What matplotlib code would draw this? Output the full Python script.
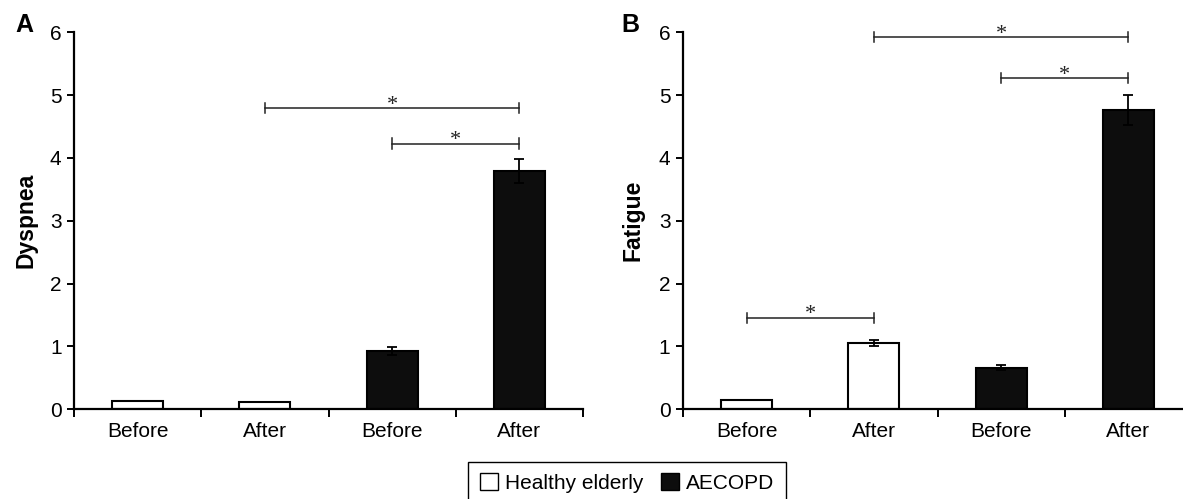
import matplotlib
matplotlib.use("Agg")
import matplotlib.pyplot as plt
from matplotlib.patches import Patch

plt.rcParams['font.family'] = ['Liberation Sans', 'DejaVu Sans']

# data
categories = ["Before", "After", "Before", "After"]
groups = ["Healthy elderly", "Healthy elderly", "AECOPD", "AECOPD"]

dyspnea = [0.13, 0.12, 0.93, 3.79]
dyspnea_err = [0.0, 0.0, 0.06, 0.19]

fatigue = [0.15, 1.05, 0.66, 4.76]
fatigue_err = [0.0, 0.05, 0.04, 0.24]

# significance brackets: (start bar, end bar, height)
dyspnea_sig = [(1, 3, 4.79), (2, 3, 4.23)]
fatigue_sig = [(1, 3, 5.92), (2, 3, 5.27), (0, 1, 1.46)]

group_colors = {"Healthy elderly": "white", "AECOPD": "#0d0d0d"}

W, H = 1183, 499
fig = plt.figure(figsize=(W / 100, H / 100), dpi=100)


def draw_panel(ax, values, errors, sigs):
    x = list(range(len(values)))
    colors = [group_colors[g] for g in groups]
    ax.bar(x, values, width=0.4, color=colors, edgecolor="black", linewidth=1.5, zorder=2)
    ax.errorbar(x, values, yerr=errors, fmt="none", ecolor="black", elinewidth=1.3,
                capsize=3.5, capthick=1.3, zorder=3)

    for a, b, h in sigs:
        ax.plot([a, b], [h, h], color="#222222", lw=1.1, clip_on=False, zorder=4)
        for xx in (a, b):
            ax.plot([xx, xx], [h - 0.08, h + 0.08], color="#222222", lw=1.1,
                    clip_on=False, zorder=4)
        ax.text((a + b) / 2, h - 0.03, "*", ha="center", va="baseline", fontsize=16,
                family="Liberation Serif", color="#222222", clip_on=False)

    ax.set_xlim(-0.5, len(values) - 0.5)
    ax.set_ylim(0, 6)
    ax.set_yticks(range(7))
    ax.set_xticks([i - 0.5 for i in range(len(values) + 1)])
    ax.set_xticklabels([])
    ax.set_xticks(x, minor=True)
    ax.set_xticklabels(categories, minor=True)
    ax.tick_params(axis="x", which="major", direction="out", length=6, width=1.4)
    ax.tick_params(axis="x", which="minor", length=0, pad=9, labelsize=15)
    ax.tick_params(axis="y", direction="out", length=5, width=1.4, pad=4, labelsize=15)
    for s in ("top", "right"):
        ax.spines[s].set_visible(False)
    for s in ("left", "bottom"):
        ax.spines[s].set_linewidth(1.6)


axA = fig.add_axes([74 / W, 1 - 409.3 / H, 509 / W, 377 / H])
axB = fig.add_axes([683 / W, 1 - 409.3 / H, 509 / W, 377 / H])

draw_panel(axA, dyspnea, dyspnea_err, dyspnea_sig)
draw_panel(axB, fatigue, fatigue_err, fatigue_sig)

fig.text(24 / W, 1 - 25 / H, "A", fontsize=18, fontweight="bold", ha="center", va="center")
fig.text(630 / W, 1 - 25 / H, "B", fontsize=18, fontweight="bold", ha="center", va="center")
fig.text(26 / W, 1 - 220 / H, "Dyspnea", fontsize=16.5, fontweight="bold",
         rotation=90, ha="center", va="center")
fig.text(633 / W, 1 - 220 / H, "Fatigue", fontsize=16.5, fontweight="bold",
         rotation=90, ha="center", va="center")

handles = [Patch(facecolor=group_colors[g], edgecolor="black", linewidth=1.0)
           for g in ["Healthy elderly", "AECOPD"]]
leg = fig.legend(handles, ["Healthy elderly", "AECOPD"], loc="upper center",
                 bbox_to_anchor=(627 / W, 1 - 462 / H), ncol=2, fontsize=15,
                 frameon=True, fancybox=False, framealpha=1, edgecolor="black",
                 handlelength=0.85, handleheight=0.85, handletextpad=0.35,
                 columnspacing=0.85, borderpad=0.55, borderaxespad=0)
leg.get_frame().set_linewidth(1.0)

fig.savefig("out.png", dpi=100)
